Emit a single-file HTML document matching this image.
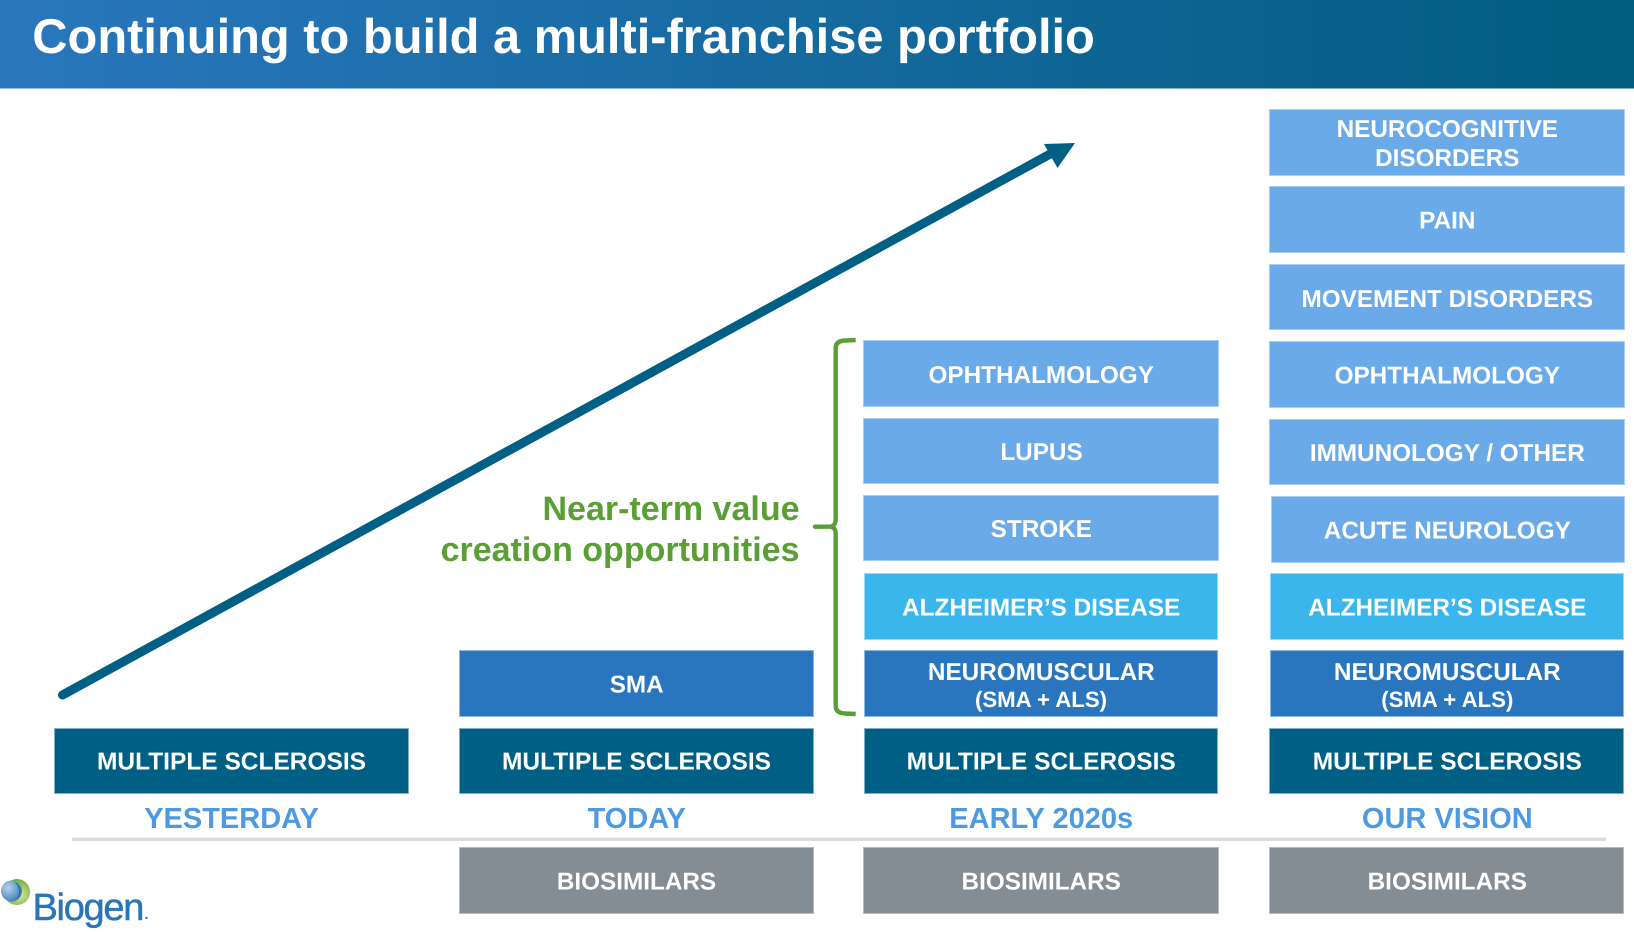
<!DOCTYPE html>
<html><head><meta charset="utf-8"><style>
html,body{margin:0;padding:0;background:#fff;width:1634px;height:932px;overflow:hidden}
svg{display:block}
text{font-family:"Liberation Sans",Arial,sans-serif;font-weight:700;fill:#fff;text-anchor:middle;text-rendering:geometricPrecision}
.l{font-size:24.3px}.m{font-size:24.5px}.s{font-size:22.2px}
.h{font-size:29px;fill:#4d9ae0}
.g{font-size:34px;fill:#5a9f35;text-anchor:end}
rect.b{stroke-width:1}
.teal{fill:#005f85;stroke:#7fb0c6}.mid{fill:#2976bf;stroke:#8db8e0}.lt{fill:#6aaae9;stroke:#a9cdf2}.az{fill:#3bb6ec;stroke:#98daf6}.gr{fill:#848d94;stroke:#b6bbbf}
</style></head><body>
<svg width="1634" height="932" viewBox="0 0 1634 932" xmlns="http://www.w3.org/2000/svg">
<defs>
<linearGradient id="hd" x1="0" y1="0" x2="1" y2="0"><stop offset="0" stop-color="#2a77bd"/><stop offset="1" stop-color="#005c80"/></linearGradient>
<radialGradient id="sg" cx=".6" cy=".6" r=".6"><stop offset="0" stop-color="#dfeaa0"/><stop offset="1" stop-color="#6fae3c"/></radialGradient>
<radialGradient id="sb" cx=".35" cy=".35" r=".7"><stop offset="0" stop-color="#b5d2ea"/><stop offset="1" stop-color="#3d7fb8"/></radialGradient>
</defs>
<rect x="0" y="0" width="1634" height="88.5" fill="url(#hd)"/>
<text x="32.3" y="53" style="font-size:48.8px;text-anchor:start">Continuing to build a multi-franchise portfolio</text>

<!-- arrow -->
<line x1="62.5" y1="695" x2="1052" y2="153" stroke="#005f85" stroke-width="9" stroke-linecap="round"/>
<polygon points="1075,143 1044,144 1049,153 1057.5,168" fill="#005f85"/>

<!-- column 1 -->
<rect class="b teal" x="54.5" y="728.5" width="354" height="65"/>
<text class="m" x="231.5" y="769.5">MULTIPLE SCLEROSIS</text>
<text class="h" x="231.5" y="828">YESTERDAY</text>

<!-- column 2 -->
<rect class="b mid" x="459.5" y="650.5" width="354" height="66"/>
<text class="l" x="636.7" y="692.5">SMA</text>
<rect class="b teal" x="459.5" y="728.5" width="354" height="65"/>
<text class="m" x="636.5" y="769.5">MULTIPLE SCLEROSIS</text>
<text class="h" x="636.7" y="828">TODAY</text>
<rect class="b gr" x="459.5" y="847.5" width="354" height="66"/>
<text class="l" x="636.5" y="889.5">BIOSIMILARS</text>

<!-- column 3 -->
<rect class="b lt" x="863.5" y="340.5" width="355" height="66"/>
<text class="l" x="1041.2" y="383">OPHTHALMOLOGY</text>
<rect class="b lt" x="863.5" y="418.5" width="355" height="65"/>
<text class="l" x="1041.5" y="460">LUPUS</text>
<rect class="b lt" x="863.5" y="495.5" width="355" height="65"/>
<text class="l" x="1041.3" y="537">STROKE</text>
<rect class="b az" x="864.5" y="573.5" width="353" height="66"/>
<text class="l" x="1041.2" y="615.5">ALZHEIMER’S DISEASE</text>
<rect class="b mid" x="864.5" y="650.5" width="353" height="66"/>
<text class="l" x="1041.3" y="680">NEUROMUSCULAR</text>
<text class="s" x="1041" y="707">(SMA + ALS)</text>
<rect class="b teal" x="864.5" y="728.5" width="353" height="65"/>
<text class="m" x="1041.2" y="769.5">MULTIPLE SCLEROSIS</text>
<text class="h" x="1041.2" y="828">EARLY 2020s</text>
<rect class="b gr" x="863.5" y="847.5" width="355" height="66"/>
<text class="l" x="1041.2" y="889.5">BIOSIMILARS</text>

<!-- column 4 -->
<rect class="b lt" x="1269.5" y="109.5" width="355" height="66"/>
<text class="l" x="1447.3" y="137">NEUROCOGNITIVE</text>
<text class="l" x="1447.3" y="166">DISORDERS</text>
<rect class="b lt" x="1269.5" y="186.5" width="355" height="66"/>
<text class="l" x="1447.3" y="228.5">PAIN</text>
<rect class="b lt" x="1269.5" y="264.5" width="355" height="65"/>
<text class="l" x="1447.3" y="307">MOVEMENT DISORDERS</text>
<rect class="b lt" x="1269.5" y="341.5" width="355" height="66"/>
<text class="l" x="1447.3" y="383.5">OPHTHALMOLOGY</text>
<rect class="b lt" x="1269.5" y="419.5" width="355" height="65"/>
<text class="l" x="1447.3" y="461">IMMUNOLOGY / OTHER</text>
<rect class="b lt" x="1271.5" y="496.5" width="353" height="66"/>
<text class="l" x="1447.3" y="538.5">ACUTE NEUROLOGY</text>
<rect class="b az" x="1270.5" y="573.5" width="353" height="66"/>
<text class="l" x="1447.3" y="615.5">ALZHEIMER’S DISEASE</text>
<rect class="b mid" x="1270.5" y="650.5" width="353" height="66"/>
<text class="l" x="1447.3" y="680">NEUROMUSCULAR</text>
<text class="s" x="1447.3" y="707">(SMA + ALS)</text>
<rect class="b teal" x="1269.5" y="728.5" width="354" height="65"/>
<text class="m" x="1447.3" y="769.5">MULTIPLE SCLEROSIS</text>
<text class="h" x="1447.3" y="828">OUR VISION</text>
<rect class="b gr" x="1269.5" y="847.5" width="354" height="66"/>
<text class="l" x="1447.3" y="889.5">BIOSIMILARS</text>

<!-- divider -->
<rect x="72" y="837.5" width="1534" height="3.5" fill="#dcdcdc"/>

<!-- near-term -->
<text class="g" x="799.5" y="520">Near-term value</text>
<text class="g" x="799.5" y="561">creation opportunities</text>
<path d="M855.7 340 L845 340.5 Q835.7 341 835.7 348 L835.7 519 Q835.7 526.7 829 526.7 L815 526.7 M829 526.7 Q835.7 526.7 835.7 534 L835.7 706 Q835.7 713 845 713.5 L855.7 714" fill="none" stroke="#5a9f35" stroke-width="4.4" stroke-linecap="butt"/>
<circle cx="815" cy="526.7" r="2.2" fill="#5a9f35"/>

<!-- logo -->
<circle cx="17" cy="892" r="13" fill="url(#sg)"/>
<circle cx="11.5" cy="891" r="10.5" fill="url(#sb)"/>
<path d="M14 881.5 A10.5 10.5 0 0 1 16 900 A13 13 0 0 0 14 881.5Z" fill="#2f6f8f"/>
<text x="32.5" y="920" style="font-size:38px;font-weight:400;fill:#2a75b8;stroke:#2a75b8;stroke-width:.5;text-anchor:start;letter-spacing:-1.3px">Biogen</text>
<circle cx="146.5" cy="918" r="1.2" fill="#2a75b8"/>
</svg>
</body></html>
